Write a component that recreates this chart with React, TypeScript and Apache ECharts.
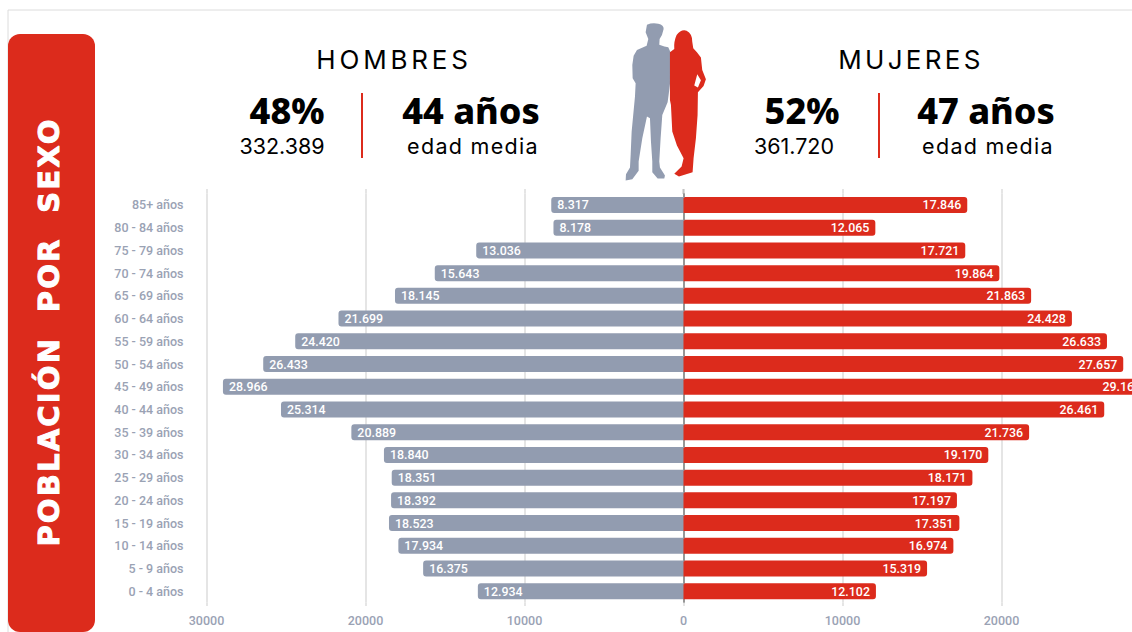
import React, { useEffect, useRef } from "react";
import * as echarts from "echarts";

const categorias = ["85+ años","80 - 84 años","75 - 79 años","70 - 74 años","65 - 69 años","60 - 64 años","55 - 59 años","50 - 54 años","45 - 49 años","40 - 44 años","35 - 39 años","30 - 34 años","25 - 29 años","20 - 24 años","15 - 19 años","10 - 14 años","5 - 9 años","0 - 4 años"];
const hombres = [8317,8178,13036,15643,18145,21699,24420,26433,28966,25314,20889,18840,18351,18392,18523,17934,16375,12934];
const mujeres = [17846,12065,17721,19864,21863,24428,26633,27657,29162,26461,21736,19170,18171,17197,17351,16974,15319,12102];

const ROJO = "#dc2b1c";
const GRIS = "#929cb0";
const ETIQUETA = "#9aa2b4";
const REJILLA = "#dcdcdc";

const manPath = "M96 29 Q112 22 130 26 Q147 30 146 42 L141 60 L134 72 L133 89 Q150 95 160 97 L166 110 L166 200 L161 240 L158 262 L142 300 L137 370 L133 440 L135 458 L150 482 L148 491 L128 491 L112 472 L112 440 L108 380 L105 310 L96 305 L82 370 L71 440 L71 468 L52 493 L32 497 L33 478 L45 458 L47 420 L50 350 L60 245 L62 205 L53 190 L52 150 L56 122 L66 105 L95 92 L100 72 L92 52 Z";
const womanPath = "M178 102 Q176 80 185 60 Q198 42 215 47 Q232 55 232 80 L235 100 L246 112 L258 128 L262 165 L273 193 L266 213 L249 232 L248 300 L243 370 L236 430 L233 472 L192 485 L178 477 L200 455 L206 430 L186 392 L172 350 L168 270 L165 255 L165 112 Z M247 178 L238 212 L249 218 L258 196 Z";
echarts.graphic.registerShape("figHombre", echarts.graphic.extendPath(manPath, {}) as any);
echarts.graphic.registerShape("figMujer", echarts.graphic.extendPath(womanPath, {}) as any);

const fmt = (v: number) => String(Math.abs(v)).replace(/\B(?=(\d{3})(?!\d))/g, ".");

const txt = (text: string, x: number, y: number, size: number, weight: any, family: string) => ({
  type: "text", x, y, silent: true,
  style: { text, fontSize: size, fontWeight: weight, fontFamily: family, fill: "#000", align: "center", verticalAlign: "middle" },
});

const ESPACIADO: Record<string, string> = {
  "HOMBRES": "3.8",
  "MUJERES": "3.3",
  "edad media": "1.3",
  "POBLACIÓN  POR  SEXO": "2.2",
};

export default function App() {
  const ref = useRef<HTMLDivElement>(null);
  useEffect(() => {
    document.body.style.margin = "0";
    document.body.style.overflow = "hidden";
    const chart = echarts.init(ref.current!, null, { renderer: "svg" });
    chart.setOption({
      animation: false,
      backgroundColor: "#fff",
      grid: { left: 206.5, top: 193.6, width: 954, height: 409, containLabel: false },
      tooltip: { show: false },
      xAxis: [
        {
          type: "value", min: -30000, max: 30000, interval: 10000,
          axisLine: { show: false },
          axisTick: { show: true, length: 3.5, lineStyle: { color: REJILLA, width: 1.5 } },
          splitLine: { show: true, lineStyle: { color: REJILLA, width: 1.5 } },
          axisLabel: { margin: 11, color: ETIQUETA, fontFamily: "Roboto", fontWeight: 500, fontSize: 12.5, formatter: (v: number) => (v === 30000 ? "" : String(Math.abs(v))) },
        },
        {
          type: "value", position: "top", min: -30000, max: 30000, interval: 10000,
          axisLine: { show: false },
          axisTick: { show: true, length: 4.6, lineStyle: { color: REJILLA, width: 1.5 } },
          splitLine: { show: false }, axisLabel: { show: false },
        },
      ],
      yAxis: [
        {
          type: "category", data: categorias, inverse: true, position: "left",
          axisLine: { show: false, onZero: false }, axisTick: { show: false },
          axisLabel: { margin: 23, color: ETIQUETA, fontFamily: "Roboto", fontWeight: 500, fontSize: 12.5 },
        },
        {
          type: "category", data: categorias, inverse: true, position: "left",
          axisLine: { show: true, onZero: true, lineStyle: { color: "#7c7c7c", width: 1.5 } },
          axisTick: { show: false }, axisLabel: { show: false },
        },
      ],
      series: [
        {
          name: "Hombres", type: "bar", barWidth: 16, barGap: "-100%",
          data: hombres.map((v) => -v),
          itemStyle: { color: GRIS, borderColor: GRIS, borderWidth: 2, borderRadius: [2, 0, 0, 2] },
          label: { show: true, position: "insideLeft", distance: 6, color: "#fff", fontFamily: "Roboto", fontWeight: 500, fontSize: 12.4, formatter: (p: any) => fmt(p.value) },
        },
        {
          name: "Mujeres", type: "bar", barWidth: 16, barGap: "-100%",
          data: mujeres,
          itemStyle: { color: ROJO, borderColor: ROJO, borderWidth: 2, borderRadius: [0, 2, 2, 0] },
          label: { show: true, position: "insideRight", distance: 6, color: "#fff", fontFamily: "Roboto", fontWeight: 500, fontSize: 12.4, formatter: (p: any) => fmt(p.value) },
        },
      ],
      graphic: [
        { type: "rect", silent: true, shape: { x: 8, y: 10, width: 1300, height: 700 }, style: { fill: "none", stroke: "#dcdcdc", lineWidth: 1 }, z: -1 },
        { type: "rect", silent: true, shape: { x: 8, y: 34, width: 87, height: 598, r: 12 }, style: { fill: ROJO } },
        { type: "text", silent: true, x: 49, y: 332, rotation: Math.PI / 2,
          style: { text: "POBLACIÓN  POR  SEXO", fontSize: 29, fontWeight: 900, fontFamily: "DejaVu Sans", fill: "#fff", stroke: "#fff", lineWidth: 1, align: "center", verticalAlign: "middle" } },
        txt("HOMBRES", 394, 59, 26, 400, "Inter"),
        txt("MUJERES", 911, 59, 26, 400, "Inter"),
        txt("48%", 287, 110, 36, 800, "Noto Sans"),
        txt("44 años", 471, 110, 36, 800, "Noto Sans"),
        txt("52%", 802, 110, 36, 800, "Noto Sans"),
        txt("47 años", 986, 110, 36, 800, "Noto Sans"),
        txt("332.389", 282, 146, 21.5, 400, "Inter"),
        txt("edad media", 473, 146, 21.5, 400, "Inter"),
        txt("361.720", 794, 146, 21.5, 400, "Inter"),
        txt("edad media", 988, 146, 21.5, 400, "Inter"),
        { type: "line", silent: true, shape: { x1: 362, y1: 93, x2: 362, y2: 158 }, style: { stroke: ROJO, lineWidth: 2 } },
        { type: "line", silent: true, shape: { x1: 879, y1: 93, x2: 879, y2: 158 }, style: { stroke: ROJO, lineWidth: 2 } },
        { type: "line", silent: true, shape: { x1: 683.5, y1: 189, x2: 683.5, y2: 194 }, style: { stroke: "#7c7c7c", lineWidth: 1.5 } },
        { type: "figHombre", silent: true, x: 615, y: 15, scaleX: 1 / 3, scaleY: 1 / 3, style: { fill: GRIS } },
        { type: "figMujer", silent: true, x: 615, y: 15, scaleX: 1 / 3, scaleY: 1 / 3, style: { fill: ROJO } },
      ],
    });
    ref.current!.querySelectorAll("svg text").forEach((t) => {
      const s = ESPACIADO[t.textContent || ""];
      if (s) t.setAttribute("letter-spacing", s);
    });
    return () => chart.dispose();
  }, []);
  return (
    <div style={{ position: "absolute", left: 0, top: 0, width: 1132, height: 632, overflow: "hidden" }}>
      <div ref={ref} style={{ width: 1240, height: 632 }} />
    </div>
  );
}
